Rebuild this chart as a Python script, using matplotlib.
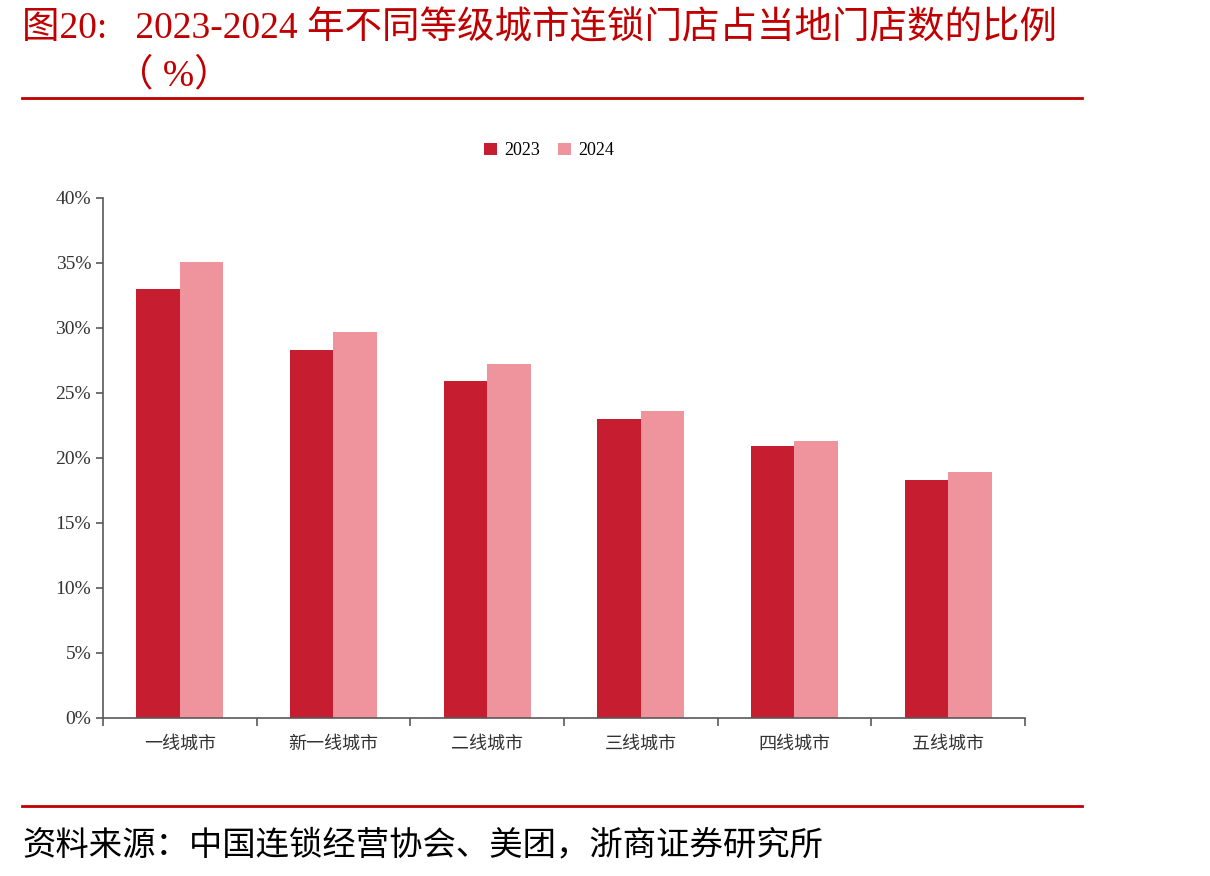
import matplotlib.pyplot as plt
import numpy as np
from matplotlib.ticker import PercentFormatter

plt.rcParams['font.family'] = ['Liberation Serif', 'Noto Sans CJK SC', 'DejaVu Sans']

# data (% of local stores)
cities = ['一线城市', '新一线城市', '二线城市', '三线城市', '四线城市', '五线城市']
share_2023 = [33.0, 28.3, 25.9, 23.0, 20.9, 18.3]
share_2024 = [35.1, 29.7, 27.2, 23.6, 21.3, 18.9]
years = ['2023', '2024']

fig = plt.figure(figsize=(12.1, 8.76), dpi=100)
ax = fig.add_axes([0.0851, 0.1804, 0.7620, 0.5936])

x = np.arange(len(cities))
w = 0.283
ax.bar(x - w / 2, share_2023, w, color='#C61D30', label=years[0])
ax.bar(x + w / 2, share_2024, w, color='#EF949D', label=years[1])

ax.set_xlim(-0.5, len(cities) - 0.5)
ax.set_ylim(0, 40)
ax.set_yticks(range(0, 41, 5))
ax.yaxis.set_major_formatter(PercentFormatter(decimals=0))

ax.set_xticks(x)
ax.set_xticklabels(cities, fontsize=13, color='#333333')
ax.tick_params(axis='x', which='major', length=0, pad=13)
ax.set_xticks(np.arange(-0.5, len(cities), 1), minor=True)
ax.tick_params(axis='x', which='minor', length=6, width=1.2, color='#595959', direction='out')
ax.tick_params(axis='y', length=5, width=1.2, color='#595959', labelsize=14, labelcolor='#333333')

for s in ['top', 'right']:
    ax.spines[s].set_visible(False)
for s in ['left', 'bottom']:
    ax.spines[s].set_color('#595959')
    ax.spines[s].set_linewidth(1.2)

ax.legend(loc='center', bbox_to_anchor=(0.484, 1.091), ncol=2, frameon=False,
          fontsize=13, handlelength=0.7, handleheight=0.7, columnspacing=1.0, handletextpad=0.4)

# title block
red = '#C00000'
fig.text(22 / 1210, 1 - 29 / 876, '图20:   2023-2024 年不同等级城市连锁门店占当地门店数的比例',
         fontsize=27, color=red, va='center', ha='left')
fig.text(116 / 1210, 1 - 76 / 876, '（ %）', fontsize=27, color=red, va='center', ha='left')
fig.add_artist(plt.Line2D([22 / 1210, 1082 / 1210], [1 - 98 / 876] * 2, color=red, lw=2))
fig.add_artist(plt.Line2D([22 / 1210, 1082 / 1210], [1 - 806 / 876] * 2, color=red, lw=2))
fig.text(22 / 1210, 1 - 845 / 876, '资料来源：中国连锁经营协会、美团，浙商证券研究所',
         fontsize=24, color='black', va='center', ha='left')

fig.savefig('out.png', dpi=100)
